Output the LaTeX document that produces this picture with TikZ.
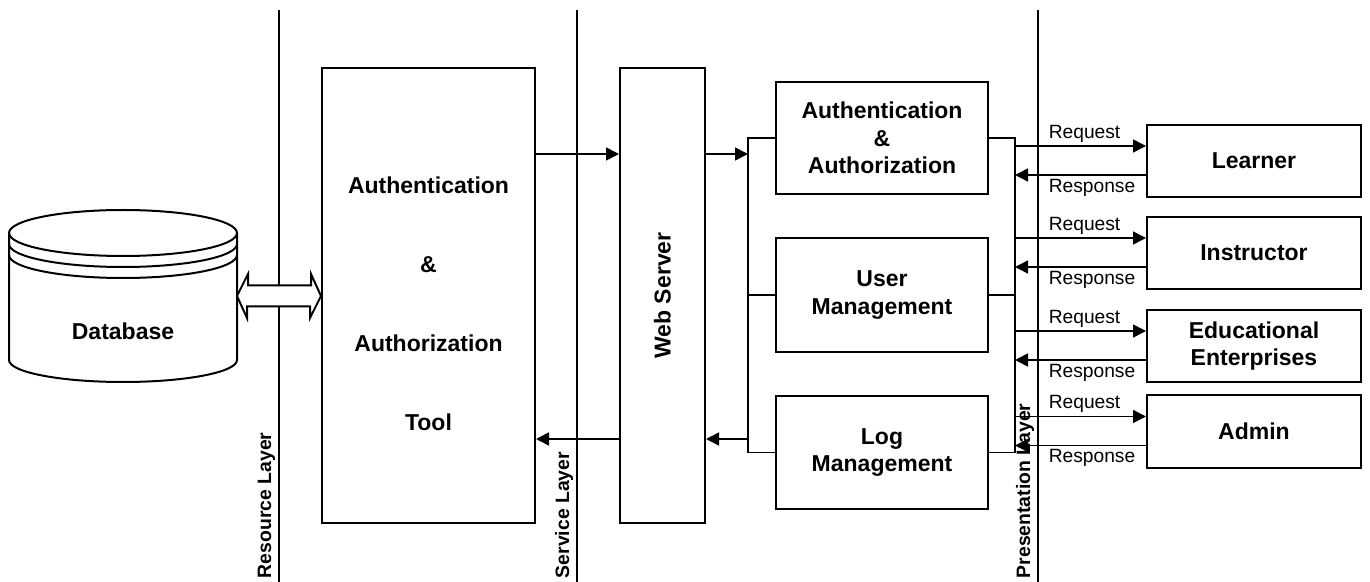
\documentclass[tikz,border=0pt]{standalone}
\usepackage{fontspec}
\setmainfont{Liberation Sans}
\usepackage{tikz}
\usetikzlibrary{arrows.meta}

\begin{document}
\begin{tikzpicture}[x=0.5pt,y=-0.5pt,
    box/.style={draw,line width=1pt,align=center,inner sep=0pt,
        font=\fontsize{11.5}{13.8}\selectfont\bfseries},
    mid/.style={box,minimum width=106pt},
    client/.style={box,minimum width=107pt,minimum height=36pt},
    arr/.style={line width=0.8pt,-{Triangle[length=6.5pt,width=6.5pt]}},
    bus/.style={line width=0.8pt},
    layer/.style={rotate=90,anchor=south west,inner sep=1.5pt,
        font=\fontsize{9.7}{11.6}\selectfont\bfseries},
    msg/.style={inner sep=1.5pt,font=\fontsize{9.6}{11.5}\selectfont}]
\useasboundingbox (0,0) rectangle (1370,582);

% layer borders
\draw[bus] (279,10) -- (279,582) node[layer] (reslayer) {Resource Layer};
\draw[bus] (577,10) -- (577,582) node[layer] (svclayer) {Service Layer};
\draw[bus] (1038,10) -- (1038,582) node[layer] (prslayer) {Presentation Layer};

% database
\draw[line width=1pt,fill=white] (9,233) -- (9,360)
    arc[start angle=180,end angle=0,x radius=114,y radius=22] -- (237,233);
\draw[line width=1pt] (123,233) ellipse[x radius=114,y radius=23];
\draw[line width=1pt] (9,244) arc[start angle=180,end angle=0,x radius=114,y radius=23];
\draw[line width=1pt] (9,255) arc[start angle=180,end angle=0,x radius=114,y radius=23];
\node[font=\fontsize{11.5}{13.8}\selectfont\bfseries] (db) at (123,331) {Database};
\coordinate (dbr) at (237,296);

% boxes
\node[box,minimum width=106.5pt,minimum height=227.5pt] (tool) at (428.5,295.5)
    {\rule{0pt}{16.5pt}Authentication\\[25.7pt]\&\\[25.7pt]Authorization\\[25.7pt]Tool};
\node[box,minimum width=42.5pt,minimum height=227.5pt] (web) at (662.5,295.5)
    {\rotatebox{90}{Web Server}};
\node[mid,minimum height=56pt] (auth) at (882,138) {Authentication\\\&\\Authorization};
\node[mid,minimum height=57pt] (user) at (882,295) {User\\Management};
\node[mid,minimum height=56.5pt] (log) at (882,452.5) {Log\\Management};
\node[client] (learner) at (1254,161) {Learner};
\node[client] (instructor) at (1254,253) {Instructor};
\node[client] (edu) at (1254,346) {Educational\\Enterprises};
\node[client] (admin) at (1254,431.5) {Admin};

% database <-> tool
\draw[line width=1pt,fill=white] (dbr) -- ++(11,-22) -- ++(0,11.5) -- ++(63,0)
    -- ++(0,-11.5) -- (tool.west |- dbr) -- ++(-11,22) -- ++(0,-11.5)
    -- ++(-63,0) -- ++(0,11.5) -- cycle;

% service side
\coordinate (lbus) at (748,0);
\coordinate (rbus) at (1015,0);
\coordinate (hi) at (0,154);
\coordinate (lo) at (0,439);
\draw[arr] (tool.east |- hi) -- (web.west |- hi);
\draw[arr] (web.east |- hi) -- (lbus |- hi);
\draw[arr] (lbus |- lo) -- (web.east |- lo);
\draw[arr] (web.west |- lo) -- (tool.east |- lo);
\draw[bus] (auth.west) -| (lbus |- log.west) -- (log.west);
\draw[bus] (user.west) -- (user.west -| lbus);
\draw[bus] (auth.east) -| (rbus |- log.east) -- (log.east);
\draw[bus] (user.east) -- (user.east -| rbus);

% requests and responses
\foreach \c in {learner,instructor,edu,admin}{
    \draw[arr] ([yshift=7.5pt]\c.west -| rbus) --
        node[msg,pos=0,anchor=south west,xshift=15pt] {Request} ([yshift=7.5pt]\c.west);
    \draw[arr] ([yshift=-7pt]\c.west) --
        node[msg,pos=1,anchor=north west,xshift=15pt] {Response} ([yshift=-7pt]\c.west -| rbus);
}
\end{tikzpicture}
\end{document}
